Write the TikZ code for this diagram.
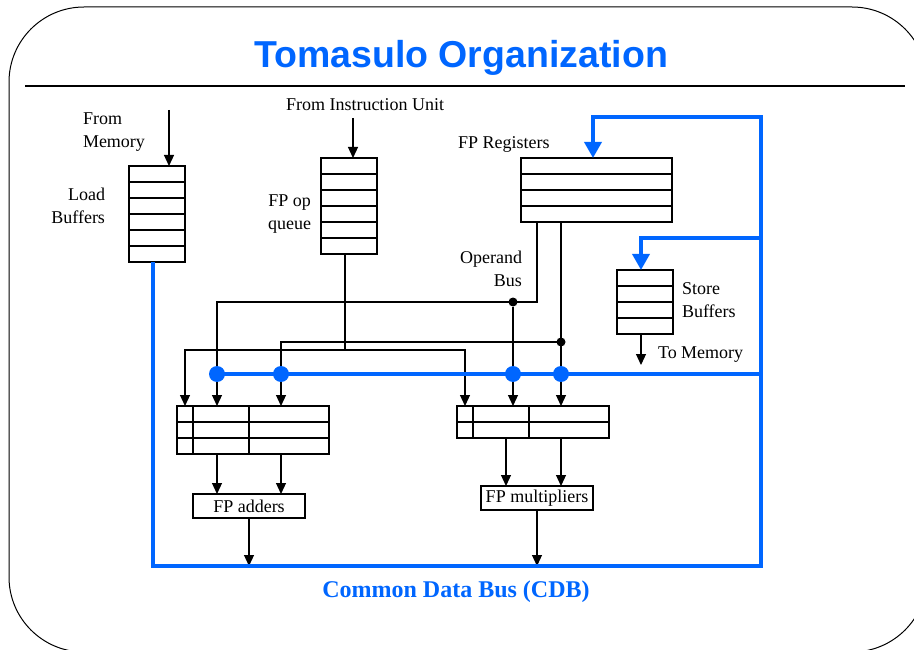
\documentclass[tikz,border=0pt]{standalone}
\usepackage{fontspec}
\setmainfont{Liberation Serif}
\newfontfamily\titlefont{Liberation Sans}
\usetikzlibrary{arrows.meta}
\definecolor{cdbblue}{RGB}{0,102,255}
\begin{document}
\begin{tikzpicture}[x=1pt,y=-1pt,
  every node/.style={inner sep=0pt, outer sep=0pt},
  lbl/.style={font=\fontsize{18}{23}\selectfont},
  buf/.style={draw, line width=1.2pt, anchor=north west, fill=white},
  wire/.style={line width=1.2pt, draw=black, line join=miter},
  arr/.style={wire, -{Triangle[width=10pt,length=11pt]}},
  arrboth/.style={wire, {Triangle[width=10pt,length=11pt]}-{Triangle[width=10pt,length=11pt]}},
  bus/.style={line width=3.5pt, draw=cdbblue, line join=miter},
  busarr/.style={bus, -{Triangle[width=17pt,length=16pt]}},
  bdot/.style={circle, fill=cdbblue, minimum size=16pt},
  kdot/.style={circle, fill=black, minimum size=9pt},
  unit/.style={draw, line width=1.2pt, anchor=north west, minimum width=112pt, minimum height=24pt, font=\fontsize{18}{22}\selectfont},
]
\useasboundingbox (0,0) rectangle (914,650);
\begin{scope}
  \clip (0,0) rectangle (914,650);
  \draw[line width=1pt, rounded corners=75pt] (9,7) rectangle (927,652);
\end{scope}

% title
\node[font=\titlefont\bfseries\fontsize{37.5}{40}\selectfont, text=cdbblue] (title) at (461,58) {Tomasulo Organization};
\draw[line width=1.2pt] (25,86) -- (905,86);

% buffers
\node[buf, minimum width=56pt, minimum height=96pt] (lb) at (129,166) {};
\foreach \i in {1,...,5} \draw[wire] ([yshift=-16pt*\i]lb.north west) -- ([yshift=-16pt*\i]lb.north east);
\node[buf, minimum width=56pt, minimum height=96pt] (q) at (321,158) {};
\foreach \i in {1,...,5} \draw[wire] ([yshift=-16pt*\i]q.north west) -- ([yshift=-16pt*\i]q.north east);
\node[buf, minimum width=151pt, minimum height=64pt] (reg) at (521,158) {};
\foreach \i in {1,...,3} \draw[wire] ([yshift=-16pt*\i]reg.north west) -- ([yshift=-16pt*\i]reg.north east);
\node[buf, minimum width=56pt, minimum height=64pt] (sb) at (617,270) {};
\foreach \i in {1,...,3} \draw[wire] ([yshift=-16pt*\i]sb.north west) -- ([yshift=-16pt*\i]sb.north east);

% reservation stations
\node[buf, minimum width=152pt, minimum height=48pt] (ars) at (177,406) {};
\foreach \i in {1,2} \draw[wire] ([yshift=-16pt*\i]ars.north west) -- ([yshift=-16pt*\i]ars.north east);
\foreach \d in {16,72} \draw[wire] ([xshift=\d pt]ars.north west) -- ([xshift=\d pt]ars.south west);
\node[buf, minimum width=152pt, minimum height=32pt] (mrs) at (457,406) {};
\draw[wire] ([yshift=-16pt]mrs.north west) -- ([yshift=-16pt]mrs.north east);
\foreach \d in {16,72} \draw[wire] ([xshift=\d pt]mrs.north west) -- ([xshift=\d pt]mrs.south west);

% functional units
\node[unit] (addU) at (193,494) {FP adders};
\node[unit] (mulU) at (481,486) {FP multipliers};

% labels
\node[lbl, align=left, anchor=west] (fromMem) at (83,132.5) {From\\Memory};
\node[lbl, align=right, anchor=east] (lbLabel) at (105,205.5) {Load\\Buffers};
\node[lbl] (fromIU) at (365,104.5) {From Instruction Unit};
\node[lbl, align=right, anchor=east] (qLabel) at (311,214.5) {FP op\\queue};
\node[lbl, anchor=west] (regLabel) at (458,144.5) {FP Registers};
\node[lbl, align=right, anchor=east] (opLabel) at (522,268.5) {Operand\\Bus};
\node[lbl, align=left, anchor=west] (sbLabel) at (682,300.5) {Store\\Buffers};
\node[lbl, anchor=west] (toMem) at (658,354.5) {To Memory};
\node[font=\bfseries\fontsize{24}{28}\selectfont, text=cdbblue] (cdbLabel) at (456,591.5) {Common Data Bus (CDB)};

% coordinates
\coordinate (memSrc) at (169,110);
\coordinate (iuSrc) at (353,118);
\coordinate (qOut) at (345,350);
\coordinate (qL) at (185,350);
\coordinate (qR) at (465,350);
\coordinate (r1) at (537,302);
\coordinate (a1) at (217,302);
\coordinate (a2) at (281,342);
\coordinate (m1) at (506,438);
\coordinate (cdbLB) at (153,566);
\coordinate (cdbRB) at (761,566);
\coordinate (cdbRT) at (761,117);
\coordinate (regIn) at (593,117);
\coordinate (sbTap) at (761,238);
\coordinate (sbIn) at (641,238);
\coordinate (toMemEnd) at (641,365);
\coordinate (busL) at (217,374);
\coordinate (busR) at (761,374);

% black connectors
\draw[arr] (memSrc) -- (memSrc |- lb.north);
\draw[arr] (iuSrc) -- (iuSrc |- q.north);
\draw[wire] (qOut |- q.south) -- (qOut);
\draw[arrboth] (qL |- ars.north) -- (qL) -- (qR) -- (qR |- mrs.north);
\draw[arr] (r1 |- reg.south) -- (r1) -- (a1) -- (a1 |- ars.north);
\node[kdot] (k1) at (513,302) {};
\draw[arr] (k1) -- (k1 |- mrs.north);
\node[kdot] (k2) at (561,342) {};
\draw[arr] (k2 |- reg.south) -- (k2 |- mrs.north);
\draw[arr] (k2) -- (a2) -- (a2 |- ars.north);
\draw[arr] (a1 |- ars.south) -- (a1 |- addU.north);
\draw[arr] (a2 |- ars.south) -- (a2 |- addU.north);
\draw[arr] (m1 |- mrs.south) -- (m1 |- mulU.north);
\draw[arr] (k2 |- mrs.south) -- (k2 |- mulU.north);
\draw[arr] (addU.south) -- (addU.south |- cdbLB);
\draw[arr] (mulU.south) -- (mulU.south |- cdbLB);
\draw[arr] (sbIn |- sb.south) -- (toMemEnd);

% blue CDB
\draw[busarr] (cdbLB |- lb.south) -- (cdbLB) -- (cdbRB) -- (cdbRT) -- (regIn) -- (regIn |- reg.north);
\draw[busarr] (sbTap) -- (sbIn) -- (sbIn |- sb.north);
\draw[bus] (busL) -- (busR);
\node[bdot] (bd1) at (217,374) {};
\node[bdot] (bd2) at (281,374) {};
\node[bdot] (bd3) at (513,374) {};
\node[bdot] (bd4) at (561,374) {};
\end{tikzpicture}
\end{document}
